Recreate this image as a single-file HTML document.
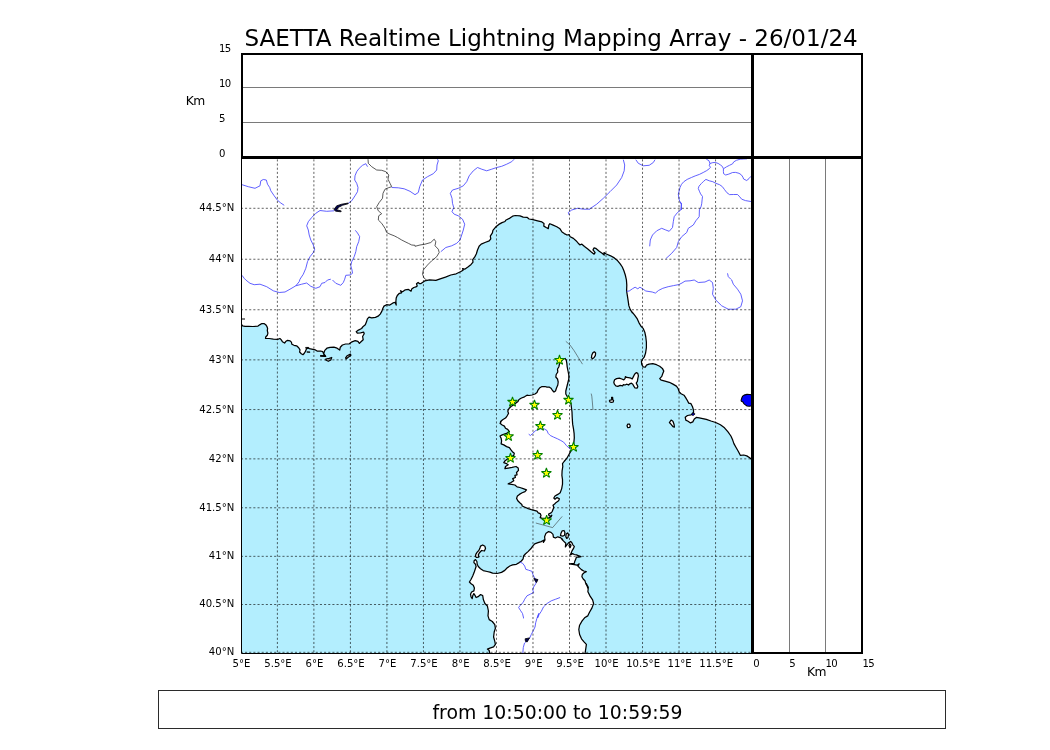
<!DOCTYPE html>
<html lang="en"><head><meta charset="utf-8"><title>SAETTA Realtime Lightning Mapping Array</title>
<style>html,body{margin:0;padding:0;background:#fff}body{width:1050px;height:750px;overflow:hidden}svg{display:block}text{font-family:"DejaVu Sans","Liberation Sans",sans-serif;fill:#000}</style>
</head><body>
<svg width="1050" height="750" viewBox="0 0 1050 750">
<rect width="1050" height="750" fill="#fff"/>
<defs><clipPath id="mc"><rect x="241.5" y="157.5" width="511.0" height="496.0"/></clipPath></defs>
<g clip-path="url(#mc)">
<rect x="241.5" y="157.5" width="511.0" height="496.0" fill="#b3eefe"/>
<g fill="#fff" stroke="#000" stroke-width="1.25" stroke-linejoin="round">
<path d="M240.9,323.7 L242.6,325.9 L245.1,326.3 L248.6,326.3 L252.9,326.5 L258.0,326.1 L260.1,324.6 L261.9,323.5 L264.0,323.5 L265.7,324.7 L267.0,326.7 L267.6,328.4 L267.3,330.6 L267.9,333.1 L267.3,335.3 L265.7,337.0 L265.5,338.3 L269.1,338.5 L273.4,339.1 L277.7,339.3 L279.9,338.5 L281.1,339.6 L282.4,341.7 L284.6,343.0 L285.9,341.3 L287.6,340.4 L290.1,340.9 L291.4,342.1 L291.9,344.3 L294.0,345.3 L296.6,345.8 L298.7,347.7 L300.0,349.9 L299.6,352.0 L301.3,353.7 L303.0,354.7 L304.3,353.3 L305.6,351.1 L306.4,349.0 L307.7,347.7 L309.4,348.6 L312.9,349.3 L315.4,349.9 L317.1,351.1 L320.6,351.0 L322.7,351.6 L323.6,353.7 L324.4,355.9 L320.6,355.9 L325.7,356.3 L323.7,353.6 L324.8,350.4 L326.9,348.2 L330.1,347.4 L333.9,347.2 L337.1,348.2 L339.7,350.1 L340.3,347.2 L342.4,345.0 L345.6,344.0 L349.3,343.8 L352.0,341.8 L355.2,340.6 L357.9,341.3 L359.4,343.4 L361.0,341.8 L363.2,339.7 L362.6,336.5 L364.2,333.8 L363.7,332.2 L360.5,332.8 L357.3,333.1 L356.2,331.7 L358.4,330.1 L361.6,328.5 L363.2,326.4 L365.3,324.8 L366.4,322.1 L367.4,318.9 L369.0,317.1 L371.7,317.9 L375.4,317.3 L378.1,316.2 L380.2,314.1 L381.8,311.4 L382.9,308.2 L384.0,306.1 L386.6,304.7 L389.8,305.1 L393.0,302.9 L395.2,302.4 L396.2,305.1 L395.9,301.3 L396.2,298.1 L397.3,295.5 L399.4,293.3 L401.6,292.8 L400.5,290.7 L402.6,291.7 L405.3,289.8 L408.5,289.4 L411.1,291.2 L411.7,289.1 L413.8,287.5 L415.9,286.9 L417.2,285.9 L416.5,283.7 L418.1,282.4 L419.7,283.7 L421.0,283.6 L424.7,280.9 L429.5,279.8 L435.9,280.4 L440.2,278.8 L445.5,277.2 L450.8,275.0 L456.2,273.8 L460.4,271.8 L463.1,270.2 L462.6,268.6 L464.7,269.2 L467.9,267.0 L471.1,264.4 L473.0,262.2 L472.7,259.6 L474.8,256.9 L476.4,253.7 L477.5,250.0 L479.1,246.2 L481.2,244.1 L485.0,242.5 L489.2,240.9 L490.8,238.8 L490.3,236.1 L492.4,232.9 L492.9,230.3 L495.6,227.1 L498.8,224.4 L502.0,222.6 L505.0,221.5 L505.7,220.3 L509.9,218.1 L512.6,216.2 L515.3,215.5 L520.0,215.8 L523.2,217.1 L527.0,217.3 L529.1,219.0 L532.9,219.7 L537.6,220.8 L541.9,221.9 L544.0,223.4 L543.8,226.1 L546.2,227.5 L548.3,228.6 L548.8,225.1 L549.9,223.7 L553.1,225.1 L556.8,226.7 L560.0,228.8 L562.0,232.0 L564.3,233.6 L567.0,235.0 L569.1,234.7 L570.2,236.8 L573.4,238.4 L576.0,240.7 L578.2,243.2 L579.8,244.8 L581.9,244.2 L584.5,246.4 L587.8,249.0 L591.0,251.7 L594.1,254.2 L595.1,252.6 L593.0,249.9 L594.1,247.8 L595.7,248.3 L598.9,251.0 L602.1,253.3 L604.2,255.0 L604.0,252.6 L606.3,254.0 L610.6,255.8 L614.3,257.9 L617.5,260.6 L620.2,263.8 L622.3,267.0 L623.9,270.7 L625.3,275.0 L626.4,279.8 L626.8,285.1 L626.6,291.0 L627.4,295.8 L628.2,301.1 L628.9,305.9 L630.3,309.6 L632.4,312.8 L632.0,311.9 L634.6,315.1 L637.3,318.9 L638.9,322.6 L641.0,326.3 L643.2,328.4 L644.8,332.2 L645.8,337.0 L646.4,342.3 L646.4,347.6 L645.6,353.0 L644.2,357.2 L642.4,359.4 L641.4,361.5 L641.8,364.7 L643.2,366.8 L645.3,367.1 L646.4,365.2 L649.0,364.2 L652.8,363.6 L656.5,364.7 L659.7,366.3 L662.4,368.4 L663.8,371.1 L662.7,373.8 L661.8,376.4 L659.7,378.6 L661.3,380.2 L665.0,381.2 L669.3,382.3 L672.5,383.9 L676.4,386.1 L678.1,388.5 L679.3,392.0 L681.1,393.8 L684.0,395.2 L685.8,397.9 L687.5,400.8 L688.7,403.1 L691.0,403.7 L692.5,406.7 L693.4,409.6 L693.6,412.5 L691.0,414.9 L687.5,415.5 L685.2,417.2 L685.8,420.1 L688.1,421.3 L690.5,422.9 L692.8,421.9 L694.3,419.0 L696.3,417.4 L699.2,417.8 L702.8,418.6 L706.3,419.3 L711.0,421.0 L715.7,422.5 L720.4,424.8 L724.5,427.8 L728.0,431.9 L730.9,436.0 L732.7,440.1 L733.9,443.6 L736.2,447.7 L738.5,451.8 L740.3,455.3 L743.8,455.0 L746.8,455.9 L749.7,457.7 L752.0,459.7 L760.0,459.7 L760.0,150.0 L230.0,150.0 L230.0,323.7Z"/>
<path d="M325.8,359.2 L329.2,358.3 L331.7,357.5 L330.8,360.0 L328.3,361.3 L325.8,360.0Z"/>
<path d="M345.6,357.8 L347.2,355.7 L350.4,354.1 L350.9,355.2 L348.2,357.3 L346.1,358.9Z"/>
<path d="M591.4,357.8 L591.8,355.0 L593.0,352.6 L594.4,351.8 L595.6,353.0 L595.4,355.4 L594.2,357.4 L592.6,358.8Z"/>
<path d="M613.8,382.2 L614.6,379.8 L616.6,378.6 L619.4,378.2 L621.8,379.0 L623.8,379.8 L625.0,378.6 L625.4,376.6 L626.6,377.4 L628.6,377.6 L631.0,378.2 L632.2,379.0 L633.4,376.6 L634.6,374.2 L636.2,372.6 L637.8,373.4 L638.4,375.8 L637.8,378.6 L637.4,381.4 L636.2,383.0 L637.0,384.6 L637.8,386.6 L637.0,388.2 L635.0,388.0 L633.8,386.2 L632.8,384.2 L631.4,383.2 L629.8,383.8 L628.6,385.0 L626.6,384.2 L625.0,385.0 L623.4,384.6 L622.6,385.8 L620.2,385.4 L617.8,386.4 L615.8,385.8 L614.4,384.2Z"/>
<path d="M609.4,401.0 L610.2,400.0 L611.8,399.8 L611.6,397.4 L612.6,397.4 L612.8,399.8 L613.6,400.6 L613.2,402.0 L611.8,402.4 L610.2,402.2Z"/>
<path d="M627.0,425.8 L627.7,424.2 L629.3,424.0 L630.3,425.7 L629.7,427.5 L627.8,427.7Z"/>
<path d="M669.4,422.5 L671.1,420.1 L672.9,421.3 L674.0,424.2 L674.4,427.2 L672.9,426.6 L670.9,424.2Z"/>
<path d="M565.0,358.5 L566.2,359.8 L566.8,363.0 L567.2,367.0 L568.0,371.0 L568.8,375.0 L568.8,379.0 L567.8,383.0 L566.8,387.0 L565.8,391.0 L565.8,394.0 L567.2,396.5 L569.5,400.0 L571.0,404.0 L571.5,408.0 L572.0,412.0 L572.2,417.0 L572.5,422.0 L572.7,424.4 L573.5,428.9 L574.1,433.3 L574.3,437.7 L573.9,442.1 L573.0,446.6 L571.3,450.4 L569.1,454.3 L566.9,458.2 L564.1,461.5 L562.5,463.7 L562.8,466.5 L562.1,470.9 L561.9,475.3 L562.5,479.7 L562.5,484.2 L561.7,488.6 L560.2,492.8 L557.8,494.4 L555.0,496.0 L553.8,498.0 L555.0,499.2 L557.0,497.6 L559.4,498.8 L558.6,500.8 L556.2,502.4 L554.6,504.0 L553.0,505.2 L553.8,507.2 L553.0,509.6 L552.2,511.6 L550.6,513.2 L548.6,514.0 L549.0,515.6 L551.0,516.4 L551.8,515.2 L551.0,517.0 L548.6,517.8 L545.0,518.2 L542.2,518.4 L540.2,517.6 L541.0,515.6 L540.2,513.6 L538.2,512.8 L537.0,511.2 L534.2,510.4 L531.4,509.6 L528.2,508.6 L525.0,507.2 L522.2,506.0 L521.8,504.4 L519.8,502.8 L517.8,500.8 L516.6,498.4 L517.4,496.0 L519.4,494.4 L522.2,492.8 L525.0,491.6 L526.5,489.9 L523.2,488.6 L519.9,487.5 L517.1,486.9 L514.9,485.0 L511.6,484.4 L508.2,483.9 L511.0,482.5 L513.8,480.8 L512.7,478.6 L515.4,477.5 L514.9,475.3 L517.1,474.8 L516.5,472.5 L518.5,470.3 L518.2,468.1 L516.0,466.5 L512.1,467.4 L508.2,468.1 L504.9,468.7 L505.5,466.5 L508.2,464.8 L506.6,463.7 L503.8,462.6 L504.9,460.9 L507.7,458.7 L511.0,457.1 L513.8,455.4 L514.3,453.2 L512.7,452.1 L511.0,449.9 L509.4,447.6 L506.6,446.6 L503.8,444.9 L501.1,443.8 L501.6,441.0 L501.1,438.2 L500.0,436.0 L502.2,434.9 L506.6,433.3 L509.4,431.6 L507.7,429.4 L505.5,428.3 L504.4,426.1 L502.2,425.0 L500.0,423.3 L501.1,421.7 L500.5,421.5 L503.0,419.5 L505.5,418.0 L507.0,416.0 L508.5,413.5 L507.8,411.0 L509.0,408.5 L511.0,406.5 L513.5,405.0 L516.0,403.0 L518.0,401.5 L519.0,399.5 L521.5,398.0 L524.5,396.8 L527.0,395.2 L529.0,395.5 L532.0,395.0 L535.0,394.0 L537.0,392.5 L538.0,390.0 L539.5,388.0 L542.0,386.5 L545.0,386.5 L547.0,387.2 L549.0,387.0 L551.0,388.2 L552.5,390.5 L554.0,392.0 L555.5,391.0 L556.5,388.0 L557.8,385.0 L558.2,382.0 L557.5,379.0 L555.8,377.0 L556.2,374.5 L557.8,372.0 L557.5,369.0 L558.8,367.0 L559.5,364.0 L561.0,361.5 L563.0,359.0Z"/>
<path d="M489.9,654.3 L489.2,650.6 L487.4,649.1 L489.9,648.1 L493.6,646.9 L495.4,644.4 L494.8,641.3 L493.6,637.0 L494.2,632.0 L495.4,628.3 L494.8,624.6 L492.3,621.5 L489.2,619.6 L488.0,615.9 L488.4,611.0 L487.4,606.0 L484.9,603.5 L483.4,599.8 L482.7,595.5 L480.6,594.6 L478.1,596.7 L476.1,597.5 L475.0,595.3 L473.9,593.6 L472.7,595.8 L472.2,598.6 L471.1,597.0 L470.5,594.2 L471.6,592.0 L473.9,590.9 L474.4,588.1 L473.3,585.3 L471.1,583.7 L469.4,582.0 L471.1,579.2 L472.7,575.9 L474.1,572.6 L475.2,569.3 L476.1,566.5 L475.5,564.3 L473.9,562.6 L474.1,560.7 L475.5,559.6 L476.9,561.5 L477.2,564.3 L478.3,566.5 L480.5,568.7 L483.2,570.6 L487.1,571.5 L489.9,572.1 L492.6,573.2 L497.1,573.5 L501.5,572.4 L504.8,570.4 L507.0,568.0 L509.8,566.0 L512.6,564.9 L516.4,564.3 L519.2,562.6 L521.4,561.0 L523.1,558.8 L523.6,556.0 L525.3,554.0 L528.0,551.6 L530.8,548.8 L532.7,546.1 L534.7,543.9 L538.0,542.7 L541.3,541.6 L544.1,540.0 L543.4,542.4 L545.0,540.0 L544.6,536.8 L545.8,533.6 L548.6,531.6 L551.0,532.4 L553.0,534.4 L553.4,537.2 L555.4,538.0 L557.8,536.8 L560.2,537.6 L562.6,539.2 L561.8,539.3 L563.6,541.1 L565.8,543.3 L565.4,546.9 L566.7,545.1 L568.5,542.9 L570.7,541.5 L572.0,542.9 L573.0,545.1 L574.3,546.4 L573.4,548.7 L572.0,550.9 L571.2,553.1 L570.3,554.9 L572.5,553.6 L574.3,554.5 L576.5,554.9 L578.8,555.8 L581.0,556.7 L578.8,557.1 L576.5,557.1 L575.6,559.4 L574.7,561.6 L574.3,563.4 L569.4,563.8 L574.3,564.7 L577.0,565.2 L579.2,563.8 L577.9,566.1 L579.6,567.9 L581.4,569.6 L583.7,571.0 L586.3,571.6 L584.1,572.8 L582.3,574.5 L581.9,576.8 L583.2,579.0 L585.0,580.8 L585.9,583.9 L587.2,586.2 L588.1,588.8 L586.4,583.7 L588.3,587.4 L587.9,591.8 L590.1,596.1 L592.6,599.8 L593.6,603.5 L592.0,607.9 L589.5,612.2 L587.7,615.9 L584.6,617.8 L582.1,620.9 L579.6,625.2 L578.8,629.5 L579.6,634.5 L581.5,638.8 L584.0,641.9 L586.4,644.4 L585.8,648.7 L584.9,654.3Z"/>
<path d="M475.5,556.6 L475.8,554.4 L477.2,552.1 L478.8,550.5 L479.9,548.3 L480.5,546.1 L482.7,545.0 L484.9,546.3 L485.5,548.5 L484.4,551.0 L481.6,550.5 L479.4,552.7 L478.3,554.9 L478.8,557.1 L476.6,557.4Z"/>
<path d="M560.5,535.7 L560.9,533.5 L562.2,530.8 L564.0,530.5 L564.9,532.6 L564.5,535.3 L562.7,536.2Z"/>
<path d="M565.8,536.6 L566.2,533.9 L567.6,532.9 L568.5,534.4 L568.0,537.5 L566.7,538.4Z"/>
<path d="M569.0,545.6 L569.8,544.0 L571.0,545.2 L570.2,547.6Z"/>
</g>
<g fill="#000" stroke="#000" stroke-width="0.6">
<path d="M305.6,347.4 L308.7,347.4 L308.7,348.2 L305.6,348.2Z"/>
<path d="M306.9,351.7 L309.9,351.8 L309.9,352.5 L306.9,352.3Z"/>
<path d="M320.6,355.4 L325.7,355.8 L325.7,356.5 L320.6,356.3Z"/>
</g>
<g fill="none" stroke="#000" stroke-width="1.1">
<path d="M241.9,319.0 L245.0,319.0"/>
</g>
<g fill="none" stroke="#4545ff" stroke-width="0.85" stroke-linejoin="round">
<path d="M242.0,184.7 L248.3,186.7 L255.0,188.3 L260.0,185.8 L260.8,180.8 L263.3,179.5 L266.3,180.0 L267.5,184.2 L269.7,187.5 L270.8,190.8 L274.2,195.8 L277.5,200.3 L280.8,203.0 L284.2,205.3"/>
<path d="M367.5,166.7 L365.8,163.7 L362.5,165.3 L359.2,168.3 L356.7,171.7 L355.0,175.8 L354.7,180.0 L356.7,183.3 L358.0,187.5 L357.5,191.7 L355.0,195.8 L351.7,200.8 L348.3,203.3"/>
<path d="M334.2,210.8 L326.7,211.3 L320.0,210.5 L315.8,213.3 L311.7,217.5 L308.3,221.7 L306.7,225.8 L308.3,230.0 L309.2,235.0 L310.8,240.0 L313.3,245.0 L314.7,249.2 L313.3,252.5 L310.0,256.7 L307.5,261.7 L305.8,268.3 L303.3,274.2 L300.0,279.2 L299.2,281.7 L295.8,285.8 L290.0,289.2 L285.0,292.0 L279.2,292.5 L273.3,290.8 L266.7,286.7 L260.0,284.2 L254.2,284.7 L250.0,283.3 L245.8,280.0 L244.2,278.3 L242.0,275.3"/>
<path d="M355.3,230.3 L357.5,233.0 L359.7,236.7 L358.7,241.7 L356.7,246.7 L355.8,251.7 L354.2,256.7 L351.7,261.7 L350.8,265.8 L352.0,270.0 L352.5,273.3 L350.0,275.0 L345.8,275.3 L344.7,279.2 L343.3,282.5 L340.8,285.3 L335.8,283.3 L332.5,280.0"/>
<path d="M295.8,285.8 L301.7,284.2 L306.7,283.0 L310.8,286.3 L315.8,288.3 L320.0,286.7 L321.7,283.3 L325.0,282.5 L327.5,280.0 L330.8,279.2"/>
<path d="M391.7,187.5 L398.3,187.8 L404.2,188.8 L410.0,191.3 L415.0,194.7 L415.0,194.7 L418.3,192.5 L419.7,186.7 L422.5,180.0 L427.5,176.7 L433.3,173.7 L436.7,170.0 L437.0,165.0 L438.3,160.8 L437.5,159.2"/>
<path d="M440.8,251.7 L445.8,247.5 L451.7,245.8 L456.7,243.3 L460.0,240.0 L461.7,235.0 L463.3,230.0 L464.7,224.2 L462.5,219.2 L458.3,215.8 L454.2,214.2 L452.0,211.7 L453.7,207.5 L452.5,203.3 L452.0,198.3 L450.3,193.3 L452.5,190.0 L458.3,188.3 L463.3,185.8 L466.7,181.7 L469.2,175.8 L473.3,170.8 L477.5,167.5 L481.7,169.2 L486.7,170.8 L491.7,169.2 L496.7,167.5 L501.7,166.3 L506.7,164.2 L511.7,161.7 L514.2,159.2"/>
<path d="M569.2,215.0 L568.3,212.5 L571.7,210.0 L577.5,208.3 L583.3,209.2 L590.0,209.2 L590.0,208.7 L596.7,204.2 L603.3,198.3 L610.0,191.7 L616.7,185.0 L621.7,177.5 L624.2,170.8 L624.7,165.0 L623.3,159.7"/>
<path d="M635.8,159.7 L638.3,163.3 L643.3,165.8 L649.2,165.3 L653.3,162.5 L655.0,159.7"/>
<path d="M649.7,246.3 L650.3,240.0 L652.5,235.0 L656.7,230.8 L661.7,228.3 L665.8,230.0 L669.2,231.3 L672.5,227.5 L673.3,221.7 L674.2,216.7 L677.5,212.5 L680.8,210.0 L681.3,204.2 L679.2,200.0 L678.3,194.2 L680.0,187.5 L681.5,184.3 L683.8,181.7 L687.2,179.4 L691.4,177.5 L695.2,175.9 L699.4,174.4 L703.2,172.5 L706.7,170.6 L709.3,168.7 L710.5,167.2 L709.3,165.7 L709.9,163.4 L709.0,160.7 L706.3,159.2"/>
<path d="M709.9,163.5 L712.8,162.6 L715.4,162.5 L718.1,163.4 L720.4,164.9 L722.3,166.4 L723.4,168.7 L723.4,171.4 L723.6,173.7 L725.7,175.0 L728.8,174.1 L732.6,172.5 L735.6,172.4 L739.0,173.3 L741.3,174.8 L742.9,177.1 L743.6,179.0 L746.7,180.5 L749.0,178.6 L750.9,176.3"/>
<path d="M723.6,168.7 L726.5,166.8 L729.5,165.3 L732.6,163.8 L733.7,161.9 L736.4,160.3 L740.2,159.2 L743.2,159.0 L747.0,158.8"/>
<path d="M665.8,258.7 L671.7,253.3 L676.7,247.5 L678.3,241.7 L681.7,236.7 L686.7,232.5 L688.3,228.3 L693.3,225.0 L695.8,220.8 L699.2,216.7 L699.4,209.9 L701.0,206.8 L701.7,203.8 L702.1,199.9 L702.5,196.5 L700.6,193.9 L699.4,191.2 L698.3,188.5 L699.0,186.2 L701.3,183.6 L703.6,181.3 L705.9,179.4 L709.3,180.8 L712.8,181.7 L715.8,183.3 L719.6,184.7 L722.3,186.6 L724.6,189.7 L726.9,192.7 L729.5,194.6 L733.7,194.5 L737.5,194.5 L739.8,196.9 L741.7,199.2 L745.5,200.6 L750.9,201.5"/>
<path d="M727.5,273.3 L728.3,276.7 L730.8,279.2 L731.7,280.0 L733.3,284.2 L737.5,289.2 L740.8,294.2 L742.5,300.8 L740.8,306.7 L735.8,309.2 L728.3,309.2 L721.7,305.8 L715.8,300.0 L712.5,294.2 L713.3,288.3 L712.5,282.5 L709.2,280.0 L705.0,282.0 L698.3,282.5 L694.2,280.0 L690.0,280.8 L685.0,281.1"/>
<path d="M528.7,434.2 L530.4,435.5 L532.6,433.5 L535.4,430.8 L538.1,429.4 L540.9,428.9 L544.2,428.9 L547.0,430.5 L548.1,433.3 L550.3,435.5 L553.6,437.1 L557.5,438.8 L560.8,440.5 L563.6,442.1 L566.3,445.4 L569.1,448.2 L571.9,449.0"/>
<path d="M519.8,562.1 L522.5,563.2 L524.7,566.0 L525.8,569.3 L528.6,570.2 L531.9,571.3 L533.0,574.8 L534.7,578.1 L535.8,579.8 L535.8,583.7 L533.6,587.0 L532.7,589.8 L533.6,592.5 L530.3,594.2 L527.0,595.8 L524.7,599.2 L523.1,602.5 L520.3,605.2 L518.6,607.5 L520.3,610.2 L522.5,613.5 L523.6,618.0 L523.5,618.4"/>
<path d="M560.1,597.5 L555.7,599.2 L551.3,600.8 L546.9,603.6 L543.5,606.9 L541.3,611.3 L539.1,614.6 L537.5,618.0 L538.8,613.4 L536.9,618.4 L535.7,622.7 L535.0,627.0 L533.2,630.8 L531.3,634.5 L529.5,638.2 L527.0,640.7 L524.5,643.1 L523.3,647.5 L522.7,654.3"/>
<path d="M626.6,291.3 L629.2,291.0 L632.4,288.8 L635.1,287.2 L637.8,288.8 L639.9,287.2 L642.6,288.8 L645.8,291.0 L649.0,291.5 L652.2,292.0 L655.4,293.1 L658.6,290.4 L662.8,288.3 L668.2,286.7 L673.5,285.6 L678.8,284.6 L682.0,283.0 L685.0,281.1"/>
<path d="M680.0,202.6 L681.4,203.0 L681.5,206.8 L681.4,210.0"/>
</g>
<g fill="none" stroke="#3c3c3c" stroke-width="0.85" stroke-linejoin="round">
<path d="M368.0,159.2 L368.3,163.3 L371.7,166.7 L376.7,170.0 L381.7,170.3 L385.8,171.7 L388.8,175.0 L388.0,179.2 L390.0,183.3 L391.7,186.7 L388.3,187.8 L385.0,189.2 L383.0,193.3 L382.5,198.3 L379.2,202.5 L376.7,206.7 L378.3,210.8 L381.7,213.7 L378.7,215.8 L378.3,220.0 L381.7,223.3 L385.0,228.3 L386.7,232.5 L390.0,234.2 L394.2,235.8 L397.5,237.5 L401.7,240.0 L405.0,241.7 L408.3,243.3 L411.7,245.0 L415.0,245.3 L415.0,246.3 L420.0,245.0 L425.0,244.2 L430.8,242.5 L434.2,239.2 L435.8,241.7 L435.0,245.8 L438.3,249.2 L439.2,252.5 L436.7,256.7 L431.7,260.8 L427.5,265.0 L423.3,270.0 L422.5,274.2 L424.2,278.3 L426.7,280.0"/>
</g>
<g fill="none" stroke="#2a2a2a" stroke-width="0.55">
<path d="M565.8,341.3 L570.0,345.0 L574.2,350.8 L578.3,357.5 L582.5,364.2"/>
<path d="M591.2,393.6 L591.8,396.2 L592.2,400.2 L592.6,405.0 L593.0,410.0"/>
<path d="M535.8,523.0 L552.6,527.6 L562.2,516.4"/>
</g>
<path d="M334.2,209.2 L336.7,205.8 L341.7,204.2 L348.3,203.0 L348.0,203.8 L342.5,205.3 L338.3,207.5 L336.7,209.7 L341.3,211.0 L340.8,211.8 L335.8,211.2 L334.2,210.0Z" fill="#000050" stroke="#000" stroke-width="0.8" stroke-linejoin="round"/>
<path d="M533.8,578.4 L538.0,579.6 L536.5,582.6 L534.9,580.6Z" fill="#000050" stroke="#000" stroke-width="0.8" stroke-linejoin="round"/>
<path d="M525.1,638.8 L529.5,637.9 L527.2,641.9 L525.5,641.4Z" fill="#000050" stroke="#000" stroke-width="0.8" stroke-linejoin="round"/>
<path d="M692.5,412.8 L695.1,413.9 L693.2,415.5 L691.6,414.9Z" fill="#0000c8" stroke="#000" stroke-width="0.8" stroke-linejoin="round"/>
<path d="M752.1,394.9 L749.4,394.5 L747.0,394.4 L744.1,395.1 L742.7,396.1 L741.8,398.0 L741.1,400.4 L741.4,401.2 L743.0,402.0 L743.8,403.6 L745.4,404.9 L747.0,406.0 L749.4,406.3 L752.1,405.7Z" fill="#0000ff" stroke="#000" stroke-width="1.1" stroke-linejoin="round"/>
<g fill="none" stroke="#000" stroke-width="0.62" stroke-dasharray="2.08 2.08">
<path d="M240.86,652.32 V150"/>
<path d="M277.38,652.32 V150"/>
<path d="M313.89,652.32 V150"/>
<path d="M350.41,652.32 V150"/>
<path d="M386.92,652.32 V150"/>
<path d="M423.44,652.32 V150"/>
<path d="M459.95,652.32 V150"/>
<path d="M496.47,652.32 V150"/>
<path d="M532.98,652.32 V150"/>
<path d="M569.50,652.32 V150"/>
<path d="M606.01,652.32 V150"/>
<path d="M642.53,652.32 V150"/>
<path d="M679.04,652.32 V150"/>
<path d="M715.56,652.32 V150"/>
<path d="M752.07,652.32 V150"/>
<path d="M240.86,652.32 H760"/>
<path d="M240.86,604.50 H760"/>
<path d="M240.86,556.33 H760"/>
<path d="M240.86,507.79 H760"/>
<path d="M240.86,458.87 H760"/>
<path d="M240.86,409.57 H760"/>
<path d="M240.86,359.87 H760"/>
<path d="M240.86,309.76 H760"/>
<path d="M240.86,259.24 H760"/>
<path d="M240.86,208.29 H760"/>
<path d="M240.86,156.90 H760"/>
</g>
<g fill="#ffff00" stroke="#008000" stroke-width="1.04" stroke-linejoin="bevel">
<path d="M559.50,355.00 L560.67,358.59 L564.45,358.59 L561.39,360.81 L562.56,364.41 L559.50,362.19 L556.44,364.41 L557.61,360.81 L554.55,358.59 L558.33,358.59Z"/>
<path d="M512.50,396.80 L513.67,400.39 L517.45,400.39 L514.39,402.61 L515.56,406.21 L512.50,403.99 L509.44,406.21 L510.61,402.61 L507.55,400.39 L511.33,400.39Z"/>
<path d="M534.50,399.80 L535.67,403.39 L539.45,403.39 L536.39,405.61 L537.56,409.21 L534.50,406.99 L531.44,409.21 L532.61,405.61 L529.55,403.39 L533.33,403.39Z"/>
<path d="M568.50,394.80 L569.67,398.39 L573.45,398.39 L570.39,400.61 L571.56,404.21 L568.50,401.99 L565.44,404.21 L566.61,400.61 L563.55,398.39 L567.33,398.39Z"/>
<path d="M557.50,410.00 L558.67,413.59 L562.45,413.59 L559.39,415.81 L560.56,419.41 L557.50,417.19 L554.44,419.41 L555.61,415.81 L552.55,413.59 L556.33,413.59Z"/>
<path d="M540.40,420.90 L541.57,424.49 L545.35,424.49 L542.29,426.71 L543.46,430.31 L540.40,428.09 L537.34,430.31 L538.51,426.71 L535.45,424.49 L539.23,424.49Z"/>
<path d="M508.60,431.20 L509.77,434.79 L513.55,434.79 L510.49,437.01 L511.66,440.61 L508.60,438.39 L505.54,440.61 L506.71,437.01 L503.65,434.79 L507.43,434.79Z"/>
<path d="M573.50,441.90 L574.67,445.49 L578.45,445.49 L575.39,447.71 L576.56,451.31 L573.50,449.09 L570.44,451.31 L571.61,447.71 L568.55,445.49 L572.33,445.49Z"/>
<path d="M537.60,450.00 L538.77,453.59 L542.55,453.59 L539.49,455.81 L540.66,459.41 L537.60,457.19 L534.54,459.41 L535.71,455.81 L532.65,453.59 L536.43,453.59Z"/>
<path d="M510.50,453.00 L511.67,456.59 L515.45,456.59 L512.39,458.81 L513.56,462.41 L510.50,460.19 L507.44,462.41 L508.61,458.81 L505.55,456.59 L509.33,456.59Z"/>
<path d="M546.40,467.90 L547.57,471.49 L551.35,471.49 L548.29,473.71 L549.46,477.31 L546.40,475.09 L543.34,477.31 L544.51,473.71 L541.45,471.49 L545.23,471.49Z"/>
<path d="M546.60,515.20 L547.77,518.79 L551.55,518.79 L548.49,521.01 L549.66,524.61 L546.60,522.39 L543.54,524.61 L544.71,521.01 L541.65,518.79 L545.43,518.79Z"/>
</g>
</g>
<path d="M241.5,157.5 V653.5 H752.5" fill="none" stroke="#000" stroke-width="1"/>
<g stroke="#7a7a7a" stroke-width="1" fill="none">
<path d="M243,87.5 H751"/><path d="M243,122.5 H751"/>
<path d="M789.5,159 V652"/><path d="M825.5,159 V652"/>
</g>
<g stroke="#000" fill="none">
<path d="M242,157.5 V54 H862 V653 H752.5" stroke-width="2" stroke-linecap="square"/>
<path d="M752.5,53 V654" stroke-width="3"/>
<path d="M241,157.5 H863" stroke-width="3"/>
</g>
<rect x="158.5" y="690.5" width="787" height="38" fill="#fff" stroke="#2b2b2b" stroke-width="1"/>
<text x="551.1" y="45.7" font-size="23.06" text-anchor="middle">SAETTA Realtime Lightning Mapping Array - 26/01/24</text>
<text x="557.5" y="719" font-size="18.85" text-anchor="middle">from 10:50:00 to 10:59:59</text>
<g font-size="10.1">
<text x="219.0" y="52.1" letter-spacing="-0.55">15</text>
<text x="219.0" y="87.1" letter-spacing="-0.55">10</text>
<text x="219.0" y="122" letter-spacing="-0.55">5</text>
<text x="219.0" y="157" letter-spacing="-0.55">0</text>
<text x="241.5" y="666.9" text-anchor="middle">5°E</text>
<text x="278.0" y="666.9" text-anchor="middle">5.5°E</text>
<text x="314.5" y="666.9" text-anchor="middle">6°E</text>
<text x="351.0" y="666.9" text-anchor="middle">6.5°E</text>
<text x="387.5" y="666.9" text-anchor="middle">7°E</text>
<text x="424.0" y="666.9" text-anchor="middle">7.5°E</text>
<text x="460.6" y="666.9" text-anchor="middle">8°E</text>
<text x="497.1" y="666.9" text-anchor="middle">8.5°E</text>
<text x="533.6" y="666.9" text-anchor="middle">9°E</text>
<text x="570.1" y="666.9" text-anchor="middle">9.5°E</text>
<text x="606.6" y="666.9" text-anchor="middle">10°E</text>
<text x="643.1" y="666.9" text-anchor="middle">10.5°E</text>
<text x="679.6" y="666.9" text-anchor="middle">11°E</text>
<text x="716.2" y="666.9" text-anchor="middle">11.5°E</text>
<text x="234.3" y="654.7" text-anchor="end">40°N</text>
<text x="234.3" y="607.4" text-anchor="end">40.5°N</text>
<text x="234.3" y="559.2" text-anchor="end">41°N</text>
<text x="234.3" y="510.7" text-anchor="end">41.5°N</text>
<text x="234.3" y="461.8" text-anchor="end">42°N</text>
<text x="234.3" y="412.5" text-anchor="end">42.5°N</text>
<text x="234.3" y="362.8" text-anchor="end">43°N</text>
<text x="234.3" y="312.7" text-anchor="end">43.5°N</text>
<text x="234.3" y="262.1" text-anchor="end">44°N</text>
<text x="234.3" y="211.2" text-anchor="end">44.5°N</text>
<text x="753.3" y="666.9" letter-spacing="-0.55">0</text>
<text x="789.3" y="666.9" letter-spacing="-0.55">5</text>
<text x="825.4" y="666.9" letter-spacing="-0.55">10</text>
<text x="862.4" y="666.9" letter-spacing="-0.55">15</text>
</g>
<text x="185.8" y="104.8" font-size="12.3" letter-spacing="-0.6">Km</text>
<text x="807" y="676" font-size="12.3" letter-spacing="-0.6">Km</text>
</svg></body></html>
